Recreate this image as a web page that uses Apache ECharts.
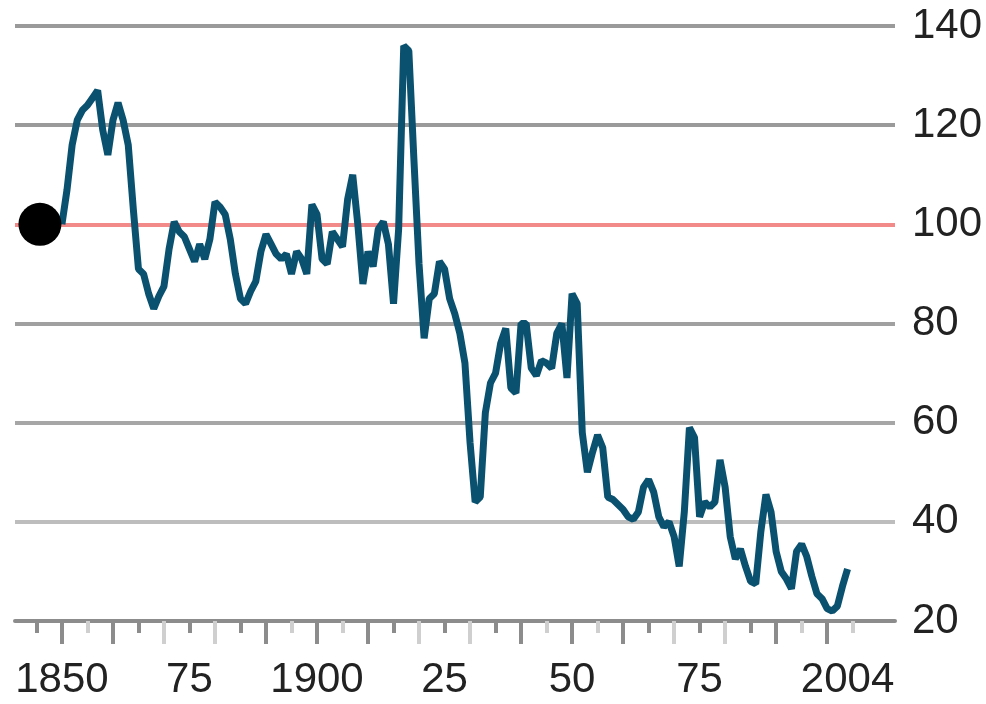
<!DOCTYPE html>
<html>
<head>
<meta charset="utf-8">
<script src="https://cdn.jsdelivr.net/npm/echarts@6/dist/echarts.min.js"></script>
<style>
html,body{margin:0;padding:0;background:#fff;}
#chart{width:986px;height:704px;}
</style>
</head>
<body>
<div id="chart"></div>
<script>
// ---- data ----
const startYear = 1850;
const indexValues = [
  100, 107, 116, 121, 123, 124, 125.5, 127, 119, 114,          // 1850-1859
  121, 124.5, 121, 116, 103, 91, 90, 86, 83, 85.5,             // 1860-1869
  87.5, 95, 100.5, 98.5, 97.5, 95, 92.5, 96, 93, 97,           // 1870-1879
  104.5, 103.5, 102, 97, 90, 85, 84, 86.5, 88.5, 94.5,         // 1880-1889
  98, 96, 94, 93, 94, 90, 94.5, 93, 90, 104,                   // 1890-1899
  102, 93, 92, 98.5, 97, 95.5, 105, 110, 100, 88,              // 1900-1909
  94.5, 91.5, 99, 100.5, 96, 84, 99, 136, 135, 113,            // 1910-1919
  92, 77, 85, 86, 92.5, 91, 85, 82, 78, 72,                    // 1920-1929
  56, 44, 45, 62, 68, 70, 76, 79, 67, 66,                      // 1930-1939
  80, 80, 71, 69.5, 72.5, 72, 71, 78, 80, 69,                  // 1940-1949
  86, 84, 58, 50, 54, 57.5, 55, 45, 44.5, 43.5,                // 1950-1959
  42.5, 41, 40.5, 42, 47, 48.5, 46, 41, 39, 40,                // 1960-1969
  37, 31, 42, 59, 57, 41, 44, 43, 44, 52.5,                    // 1970-1979
  47, 37, 32.5, 34.5, 31, 28, 27.5, 38, 45.5, 42,              // 1980-1989
  34, 30, 28.5, 26.5, 34, 35.5, 33, 29, 25.5, 24.5,            // 1990-1999
  22.5, 22, 23, 27, 30.5                                       // 2000-2004
];
const xLabelYears = [1850, 1875, 1900, 1925, 1950, 1975, 2004];
const xLabelTexts = ['1850', '75', '1900', '25', '50', '75', '2004'];
const longTicksDark = [1850, 1860, 1890, 1900, 1910, 1940, 1950, 1960, 1990, 2000];
const longTicksLight = [1870, 1880, 1920, 1930, 1970, 1980];
const shortTicksDark = [1845, 1865, 1875, 1885, 1915, 1925, 1935, 1965, 1975, 1985];
const shortTicksLight = [1855, 1895, 1905, 1945, 1955, 1995, 2005];
const yMin = 20, yMax = 140, yStep = 20;

// ---- chart ----
const lineData = indexValues.map((v, i) => [startYear + i, v]);
const X_MIN = 1840.8, X_MAX = 2013.3;
const DARK = '#8c8c8c', LIGHT = '#cfcfcf';
const FONT = 'Liberation Sans';

function tickAxis(values, len, color) {
  return {
    type: 'value', position: 'bottom', min: X_MIN, max: X_MAX,
    axisLine: { show: false }, splitLine: { show: false },
    axisLabel: { show: false },
    axisTick: { show: true, customValues: values, length: len, inside: false,
      lineStyle: { color: color, width: 4 } }
  };
}

const chart = echarts.init(document.getElementById('chart'), null, { renderer: 'canvas' });
chart.setOption({
  backgroundColor: '#ffffff',
  animation: false,
  grid: { left: 15, right: 91, top: 26, bottom: 83, containLabel: false },
  xAxis: [
    {
      type: 'value', position: 'bottom', min: X_MIN, max: X_MAX,
      axisLine: { show: true, onZero: false, lineStyle: { color: DARK, width: 4 } },
      axisTick: { show: false },
      splitLine: { show: false },
      axisLabel: {
        show: true, customValues: xLabelYears, margin: 38,
        fontFamily: FONT, fontSize: 42, color: '#222222',
        formatter: v => xLabelTexts[xLabelYears.indexOf(Math.round(v))] || ''
      }
    },
    tickAxis(longTicksDark, 23, DARK),
    tickAxis(longTicksLight, 23, LIGHT),
    tickAxis(shortTicksDark, 12, DARK),
    tickAxis(shortTicksLight, 12, LIGHT)
  ],
  yAxis: {
    type: 'value', position: 'right', min: yMin, max: yMax, interval: yStep,
    axisLine: { show: false }, axisTick: { show: false },
    axisLabel: { margin: 17, fontFamily: FONT, fontSize: 42, color: '#222222', align: 'left' },
    splitLine: { show: true, lineStyle: { width: 4,
      color: ['#8c8c8c', '#bdbdbd', '#a6a6a6', '#a0a0a0', '#f28a8a', '#9a9a9a', '#9a9a9a'] } }
  },
  series: [
    {
      type: 'line', data: lineData, xAxisIndex: 0, showSymbol: false,
      lineStyle: { color: '#0a5170', width: 7, join: 'bevel' }, z: 5
    },
    {
      type: 'scatter', xAxisIndex: 0, data: [lineData[0]],
      symbol: 'circle', symbolSize: 43, symbolOffset: [-22, 0],
      itemStyle: { color: '#000000', opacity: 1 }, z: 6
    }
  ]
});
</script>
</body>
</html>
